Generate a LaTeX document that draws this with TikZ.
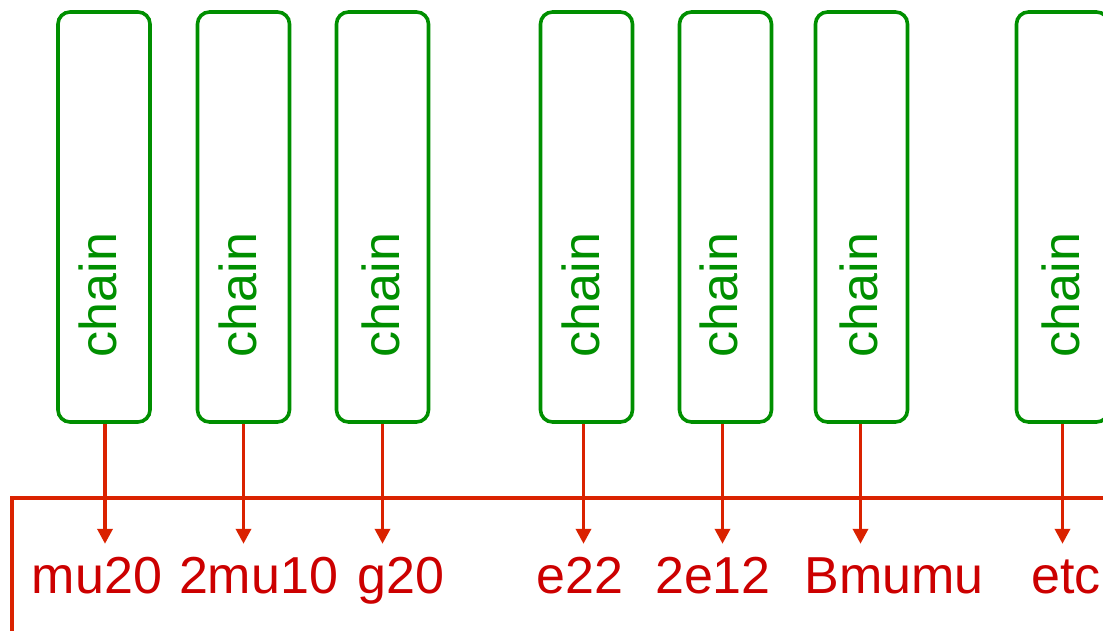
\documentclass[tikz,border=0pt]{standalone}
\usepackage{fontspec}
\setmainfont{Liberation Sans}
\usetikzlibrary{arrows.meta}
\definecolor{boxgreen}{RGB}{0,143,0}
\definecolor{linered}{RGB}{218,34,0}
\definecolor{textred}{RGB}{204,0,0}
\tikzset{
  chainbox/.style={draw=boxgreen, line width=3.6pt, rounded corners=12pt,
    minimum width=92pt, minimum height=410pt, inner sep=0pt},
  chaintext/.style={rotate=90, anchor=base, text=boxgreen, inner sep=0pt,
    font=\fontsize{52}{62}\selectfont},
  lbl/.style={anchor=base, text=textred, inner sep=0pt, text height=38pt,
    text depth=11pt, font=\fontsize{52}{62}\selectfont},
  arr/.style={draw=linered, line width=3.5pt,
    -{Triangle[width=15pt,length=15pt]}, shorten >=11pt},
  bracket/.style={draw=linered, line width=3.5pt}
}
\begin{document}
\begin{tikzpicture}[x=1pt,y=-1pt]
\useasboundingbox (0,0) rectangle (1103,631);
\clip (0,0) rectangle (1103,631);
% boxes
\node[chainbox] (b1) at (104,217) {};
\node[chainbox] (b2) at (243.5,217) {};
\node[chainbox] (b3) at (382.5,217) {};
\node[chainbox] (b4) at (586.5,217) {};
\node[chainbox] (b5) at (725.5,217) {};
\node[chainbox] (b6) at (861.5,217) {};
\node[chainbox] (b7) at (1062.5,217) {};
% box texts
\node[chaintext] (t1) at (116,295) {chain};
\node[chaintext] (t2) at (256,295) {chain};
\node[chaintext] (t3) at (399,295) {chain};
\node[chaintext] (t4) at (599,295) {chain};
\node[chaintext] (t5) at (737,295) {chain};
\node[chaintext] (t6) at (877,295) {chain};
\node[chaintext] (t7) at (1079,295) {chain};
% labels
\node[lbl] (l1) at (97,593) {mu20};
\node[lbl] (l2) at (258.5,593) {2mu10};
\node[lbl] (l3) at (401,593) {g20};
\node[lbl] (l4) at (580,593) {e22};
\node[lbl] (l5) at (713,593) {2e12};
\node[lbl] (l6) at (894,593) {Bmumu};
\node[lbl] (l7) at (1066,593) {etc};
% bracket line
\draw[bracket] (12,640) -- (12,498) -- (1110,498);
% arrows
\draw[arr] ([xshift=1pt]b1.south) -- ([xshift=1pt]b1.south |- l1.north);
\draw[arr] (b2.south) -- (b2.south |- l2.north);
\draw[arr] (b3.south) -- (b3.south |- l3.north);
\draw[arr] ([xshift=-3pt]b4.south) -- ([xshift=-3pt]b4.south |- l4.north);
\draw[arr] ([xshift=-3pt]b5.south) -- ([xshift=-3pt]b5.south |- l5.north);
\draw[arr] ([xshift=-1pt]b6.south) -- ([xshift=-1pt]b6.south |- l6.north);
\draw[arr] (b7.south) -- (b7.south |- l7.north);
\end{tikzpicture}
\end{document}
